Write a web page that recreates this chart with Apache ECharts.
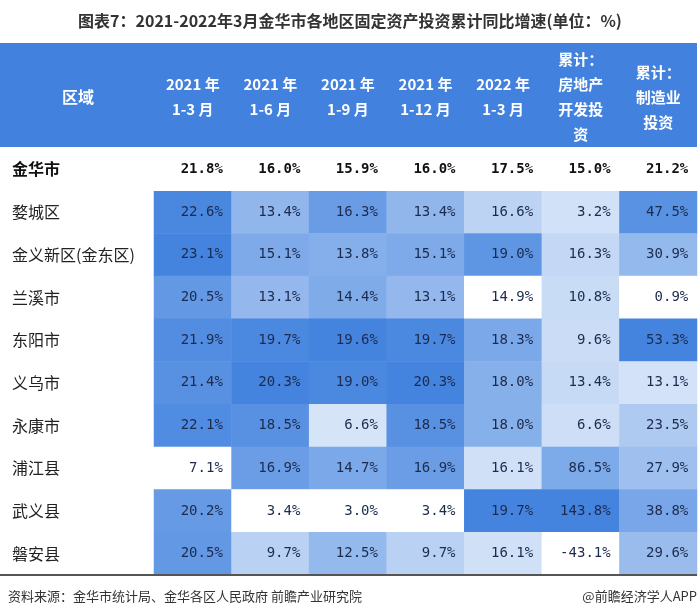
<!DOCTYPE html>
<html>
<head>
<meta charset="utf-8">
<script src="https://cdn.jsdelivr.net/npm/echarts@6/dist/echarts.min.js"></script>
<style>html,body{margin:0;padding:0;background:#fff;}#chart{width:700px;height:615px;}</style>
</head>
<body>
<div id="chart"></div>
<script>
var titleText = '图表7：2021-2022年3月金华市各地区固定资产投资累计同比增速(单位：%)';
var headerFirst = '区域';
var columns = ['2021 年\n1-3 月', '2021 年\n1-6 月', '2021 年\n1-9 月', '2021 年\n1-12 月', '2022 年\n1-3 月', '累计：\n房地产\n开发投\n资', '累计：\n制造业\n投资'];
var totalName = '金华市';
var regions = ['婺城区', '金义新区(金东区)', '兰溪市', '东阳市', '义乌市', '永康市', '浦江县', '武义县', '磐安县'];
var totalValues = [21.8, 16.0, 15.9, 16.0, 17.5, 15.0, 21.2];
var col2021Q1 = [22.6, 23.1, 20.5, 21.9, 21.4, 22.1, 7.1, 20.2, 20.5];
var col2021H1 = [13.4, 15.1, 13.1, 19.7, 20.3, 18.5, 16.9, 3.4, 9.7];
var col2021Q3 = [16.3, 13.8, 14.4, 19.6, 19.0, 6.6, 14.7, 3.0, 12.5];
var col2021Y = [13.4, 15.1, 13.1, 19.7, 20.3, 18.5, 16.9, 3.4, 9.7];
var col2022Q1 = [16.6, 19.0, 14.9, 18.3, 18.0, 18.0, 16.1, 19.7, 16.1];
var colRealEstate = [3.2, 16.3, 10.8, 9.6, 13.4, 6.6, 86.5, 143.8, -43.1];
var colManufacturing = [47.5, 30.9, 0.9, 53.3, 13.1, 23.5, 27.9, 38.8, 29.6];
var sourceText = '资料来源：金华市统计局、金华各区人民政府 前瞻产业研究院';
var brandText = '@前瞻经济学人APP';

var cols = [col2021Q1, col2021H1, col2021Q3, col2021Y, col2022Q1, colRealEstate, colManufacturing];
var yCats = [totalName].concat(regions);

var cellData = [];
cols.forEach(function (arr, ci) {
  var mn = Math.min.apply(null, arr), mx = Math.max.apply(null, arr);
  arr.forEach(function (v, ri) {
    cellData.push([ci, ri + 1, v, (v - mn) / (mx - mn)]);
  });
});
var totalData = totalValues.map(function (v, ci) { return [ci, 0, v]; });

var CJK = '"Noto Sans CJK SC", "Noto Sans", sans-serif';
var MONO = '"DejaVu Sans Mono", monospace';

var chart = echarts.init(document.getElementById('chart'), null, {renderer: 'canvas'});
chart.setOption({
  backgroundColor: '#ffffff',
  animation: false,
  title: {
    text: titleText, left: 'center', top: 8,
    textStyle: {fontFamily: CJK, fontSize: 16, fontWeight: 'bold', color: '#333'}
  },
  grid: {left: 154, right: 3, top: 148, bottom: 40},
  xAxis: {
    type: 'category', data: columns, position: 'top',
    axisLine: {show: false}, axisTick: {show: false}, splitLine: {show: false},
    axisLabel: {
      color: '#ffffff', fontFamily: CJK, fontWeight: 'bold', fontSize: 15,
      lineHeight: 25, verticalAlign: 'middle', margin: 51, interval: 0
    }
  },
  yAxis: {
    type: 'category', data: yCats, inverse: true,
    axisLine: {show: false}, axisTick: {show: false}, splitLine: {show: false},
    axisLabel: {
      align: 'left', margin: 142, fontFamily: CJK, fontSize: 16, color: '#222',
      formatter: function (v) { return v === totalName ? '{b|' + v + '}' : v; },
      rich: {b: {fontFamily: CJK, fontSize: 16, fontWeight: 'bold', color: '#111'}}
    }
  },
  visualMap: {
    type: 'continuous', show: false, dimension: 3, min: 0, max: 1,
    seriesIndex: 0, inRange: {color: ['#ffffff', '#4484df']}
  },
  graphic: [
    {type: 'rect', z: -10, shape: {x: 0, y: 43, width: 697, height: 104}, style: {fill: '#4282de'}},
    {type: 'text', z: 10, style: {text: headerFirst, x: 78, y: 97, align: 'center', verticalAlign: 'middle',
      fill: '#ffffff', font: 'bold 16px ' + CJK}},
    {type: 'line', z: 10, shape: {x1: 0, y1: 575, x2: 697, y2: 575}, style: {stroke: '#555', lineWidth: 2}},
    {type: 'text', style: {text: sourceText, x: 8, y: 596, verticalAlign: 'middle', fill: '#333', font: '13px ' + CJK}},
    {type: 'text', style: {text: brandText, x: 697, y: 596, align: 'right', verticalAlign: 'middle', fill: '#333', font: '13px ' + CJK}}
  ],
  series: [
    {
      type: 'heatmap', data: cellData,
      label: {
        show: true, position: 'insideRight', distance: 9,
        fontFamily: MONO, fontSize: 14, color: '#1c2b4e',
        formatter: function (p) { return p.value[2].toFixed(1) + '%'; }
      },
      emphasis: {disabled: true}
    },
    {
      type: 'heatmap', data: totalData,
      itemStyle: {color: '#ffffff'},
      label: {
        show: true, position: 'insideRight', distance: 9,
        fontFamily: MONO, fontSize: 14, fontWeight: 'bold', color: '#111',
        formatter: function (p) { return p.value[2].toFixed(1) + '%'; }
      },
      emphasis: {disabled: true}
    }
  ]
});
</script>
</body>
</html>
